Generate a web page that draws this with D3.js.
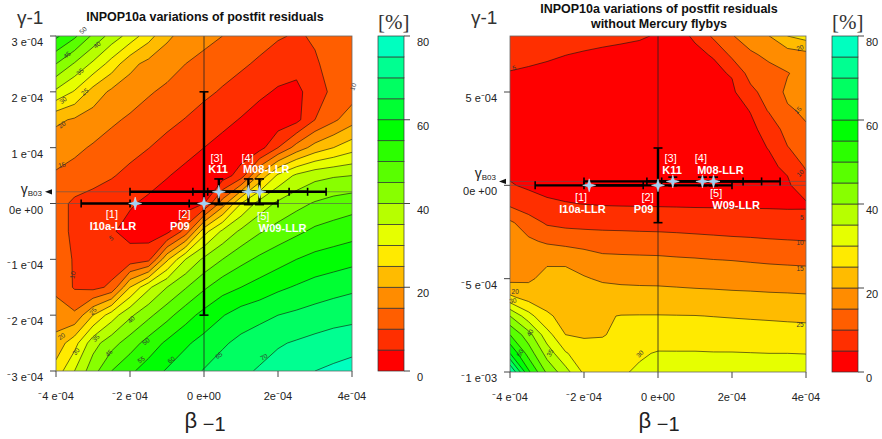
<!DOCTYPE html>
<html>
<head>
<meta charset="utf-8">
<title>INPOP10a variations of postfit residuals</title>
<script src="https://d3js.org/d3.v7.min.js"></script>
<style>
    body { margin: 0; background: #fff; }
    svg text { font-family: "Liberation Sans", Arial, sans-serif; }
    .tick-label { font-size: 11px; fill: #222; }
    .panel-title { font-size: 12.5px; font-weight: bold; fill: #111; text-anchor: middle; }
    .axis-name { font-size: 19px; fill: #333; }
    .unit { font-family: "Liberation Serif", serif; font-size: 21px; fill: #333; }
    .iso-label { font-size: 6.5px; fill: #333; text-anchor: middle; }
    .est-num { font-size: 11px; fill: #fff; text-anchor: middle; }
    .est-name { font-size: 11px; font-weight: bold; fill: #fff; text-anchor: middle; }
</style>
</head>
<body>
<svg id="chart" width="882" height="439"></svg>
<script>
// all beta / gamma values below are in units of 1e-4

// grid nodes of the residual maps
const betaNodes = [-4, -3.5, -3, -2.5, -2, -1.5, -1, -0.5, 0, 0.5, 1, 1.5, 2, 2.5, 3, 3.5, 4];
const gammaNodesAll = [3, 2.5, 2, 1.5, 1, 0.5, 0, -0.5, -1, -1.5, -2, -2.5, -3];
const gammaNodesNoFlyby = [8, 7, 6, 5, 4, 3, 2, 1, 0, -1, -2, -3, -4, -5, -6, -7, -8, -9, -10];

// variation of postfit residuals [%] (rows top to bottom)
const residualsAll = [
    [56, 51, 44, 38, 33, 27, 21, 18, 16.5, 15, 13.5, 12, 10.5, 9.5, 10.5, 11.5, 12],
    [45, 39.5, 34, 28, 21.5, 18.5, 17, 15, 13.5, 12, 10.8, 9.2, 7.5, 7, 9.5, 11.5, 12],
    [34, 29.5, 23, 19, 17.3, 15.5, 14, 12.5, 11, 9.5, 7.8, 6, 4.4, 3.5, 8, 11, 12.5],
    [21, 19.4, 17.6, 15.8, 14.3, 12.8, 11.3, 9.8, 8.1, 6.4, 4.7, 2.8, 1.6, 3.5, 10, 14, 18],
    [17, 16, 14.5, 13, 11.6, 10.1, 8.4, 6.7, 5, 3.3, 1.5, 2.9, 10, 17, 22, 25, 28],
    [14.5, 13.3, 11.8, 10.4, 8.7, 7, 5.3, 3.6, 1.8, 2.3, 7.5, 21, 31, 36, 38.5, 39.5, 40],
    [12, 9, 8, 7, 5.5, 4, 2.5, 2, 5, 17.5, 30, 37, 41, 43.5, 45.5, 47, 48],
    [12, 9, 7.5, 5.5, 3.5, 2.5, 3.5, 12, 28, 36, 41, 44.5, 47, 49, 51, 52, 53],
    [13, 9.5, 8, 7, 7, 8.5, 24, 35, 41, 45, 48.5, 51, 53, 55, 56.5, 57.5, 58.5],
    [14, 9.5, 8.5, 11, 25, 34, 40, 44.6, 49.2, 53, 55, 57, 59, 60.5, 62, 63, 64],
    [17, 16, 25, 32.5, 39, 43.8, 48.3, 52.9, 56.7, 59.7, 62.3, 63.5, 65, 66, 67, 68, 68.5],
    [22, 28, 38, 43, 47.5, 52, 56, 59.2, 61.8, 64.3, 66.3, 68, 69.5, 70.5, 71.5, 72.3, 73],
    [27, 35, 43, 50, 54, 57.5, 60.5, 63, 65.3, 67.3, 69, 70.5, 72, 73.5, 75, 76, 77]
];
const residualsNoFlyby = [
    [7, 6.6, 6.3, 6.0, 5.8, 5.6, 5.45, 5.25, 4.8, 4.3, 5.3, 11, 14.7, 17.3, 19.9, 25, 27],
    [6, 5.7, 5.35, 5.03, 4.8, 4.6, 4.4, 4.2, 4.0, 4.1, 4.5, 5.2, 11.2, 14.3, 16, 17.5, 18.5],
    [4.85, 4.6, 4.4, 4.2, 4.0, 3.8, 3.6, 3.5, 3.4, 3.5, 3.8, 4.3, 5.3, 12, 13.5, 14.8, 16.5],
    [4.5, 4.3, 4.1, 3.9, 3.7, 3.5, 3.3, 3.2, 3.1, 3.2, 3.4, 3.8, 4.2, 8.5, 12.5, 15.8, 16.5],
    [4.3, 4.1, 3.9, 3.7, 3.5, 3.3, 3.1, 3.0, 2.9, 3.0, 3.2, 3.5, 3.9, 5.1, 10.5, 14.5, 15.6],
    [4.2, 4.0, 3.8, 3.6, 3.4, 3.2, 3.0, 2.8, 2.7, 2.8, 3.0, 3.3, 3.7, 4.4, 6, 12.5, 14.6],
    [4.1, 3.9, 3.7, 3.5, 3.3, 3.1, 2.9, 2.7, 2.6, 2.7, 2.9, 3.2, 3.6, 4.2, 5.1, 9.7, 12.8],
    [4.0, 3.8, 3.6, 3.4, 3.2, 3.0, 2.8, 2.6, 2.5, 2.6, 2.8, 3.1, 3.5, 3.9, 4.4, 5.6, 10.6],
    [5.3, 4.4, 3.9, 3.6, 3.3, 3.0, 2.8, 2.6, 2.5, 2.5, 2.6, 2.8, 3.1, 3.4, 3.8, 4.4, 7.5],
    [9, 6.8, 5.6, 5.2, 4.95, 4.7, 4.6, 4.55, 4.5, 4.45, 4.4, 4.4, 4.4, 4.4, 4.4, 4.4, 4.5],
    [15.8, 12.5, 9.3, 8.6, 8.4, 8.3, 8.2, 8.1, 8.0, 7.8, 7.6, 7.4, 7.2, 7.0, 6.8, 6.5, 6.3],
    [16.5, 15.8, 14.3, 13.4, 12.9, 12.5, 12.4, 12.2, 12.1, 11.9, 11.6, 11.3, 11.0, 10.8, 10.5, 10.3, 10.1],
    [17.5, 17.5, 19.2, 19.3, 17.8, 16.3, 16.1, 16.0, 15.9, 15.6, 15.4, 15.1, 14.9, 14.6, 14.3, 14.1, 13.9],
    [18.5, 19.2, 21.5, 21.3, 20.4, 19.4, 19.1, 18.9, 18.8, 18.6, 18.4, 18.2, 18.0, 17.8, 17.6, 17.4, 17.3],
    [26, 23, 23.5, 23.2, 22.8, 22.3, 21.9, 21.9, 21.9, 21.7, 21.5, 21.4, 21.2, 21.1, 20.9, 20.8, 20.6],
    [40, 32, 25.5, 24, 23.5, 24.6, 25.15, 25.2, 25.2, 25.15, 25.1, 24.9, 24.7, 24.5, 24.3, 24.1, 23.9],
    [50, 42, 32, 25, 24.5, 24.6, 26.5, 27.5, 27.8, 27.7, 27.7, 27.5, 27.4, 27.3, 27.2, 27.0, 26.9],
    [60, 48, 38, 30.5, 27, 27.5, 28.5, 29.5, 30.3, 30.3, 30.3, 30.2, 30.2, 30.1, 30.0, 30.0, 29.9],
    [76, 56, 44, 37, 29, 28.8, 29.5, 30.6, 32, 32.2, 32.5, 32.5, 32.5, 32.5, 32.5, 32.5, 32.5]
];

// contour levels and colour-bar ticks [%]
const levels = [0, 5, 10, 15, 20, 25, 30, 35, 40, 45, 50, 55, 60, 65, 70, 75];
const percentTicks = [0, 20, 40, 60, 80];

// axis ticks
const betaTicks = [-4, -2, 0, 2, 4];
const betaTickLabels = ["⁻4 e⁻04", "⁻2 e⁻04", "0 e+00", "2e⁻04", "4e⁻04"];
const gammaTicksAll = [3, 2, 1, 0, -1, -2, -3];
const gammaTickLabelsAll = ["3 e⁻04", "2 e⁻04", "1 e⁻04", "0e +00", "⁻1 e⁻04", "⁻2 e⁻04", "⁻3 e⁻04"];
const gammaTicksNoFlyby = [5, 0, -5, -10];
const gammaTickLabelsNoFlyby = ["5 e⁻04", "0e +00", "⁻5 e⁻04", "⁻1 e⁻03"];

// Cassini value of gamma-1
const gammaB03 = 0.21;

// published estimates of beta-1 / gamma-1
const estNumbers = ["[1]", "[2]", "[3]", "[4]", "[5]"];
const estNames = ["I10a-LLR", "P09", "K11", "M08-LLR", "W09-LLR"];
const estBeta = [-1.86, 0, 0.4, 1.2, 1.5];
const estBetaErr = [1.46, 2.0, 2.4, 1.1, 1.8];
const estGamma = [0, 0, gammaB03, gammaB03, gammaB03];
const estGammaErr = [0, 2.0, 0.23, 0.23, 0.23];

// contour labels: [beta, gamma, text, angle]
const isoLabelsAll = [
    [-3.27, 3.1, "50", -45], [-3.7, 2.66, "45", -40], [-2.89, 2.84, "40", -40],
    [-3.35, 2.36, "35", -40], [-3.22, 2.0, "25", -40], [-3.81, 1.85, "30", -40],
    [-3.84, 1.41, "20", -40], [-3.84, 0.69, "15", -15], [4.03, 2.09, "10", -70],
    [-2.51, -0.62, "5", -30], [-3.55, -1.28, "10", -80], [-3.0, -1.93, "25", -45],
    [-3.85, -2.38, "20", -35], [-1.97, -2.08, "40", -45], [-2.92, -2.41, "35", -45],
    [-3.46, -2.65, "30", -50], [-2.57, -2.68, "45", -45], [-1.57, -2.47, "50", -40],
    [-1.7, -2.8, "55", -35], [-0.89, -2.8, "60", -35], [0.4, -2.72, "65", -35],
    [1.62, -2.75, "70", -30]
];
const isoLabelsNoFlyby = [
    [-3.89, 6.29, "5", -15], [3.84, 7.37, "20", -20], [3.78, 4.03, "15", -45],
    [3.84, 0.65, "10", -45], [3.89, -1.72, "5", 0], [3.84, -3.06, "10", 0],
    [3.84, -4.46, "15", 0], [3.84, -7.47, "25", 0], [-3.86, -5.7, "20", 0],
    [-3.92, -6.18, "30", -10], [-0.49, -9.03, "30", -45], [-2.92, -8.98, "35", -60],
    [-3.46, -7.9, "40", -60], [-3.73, -8.98, "50", -60]
];

// where the estimate labels sit: [beta, gamma, name shift in px]
const labelSpotsAll = [[-2.49, -0.26, 1], [-0.53, -0.26, -4.5], [0.34, 0.744, 1.5], [1.18, 0.744, 18.5], [1.6, -0.296, 19.5]];
const labelSpotsNoFlyby = [[-2.08, -0.86, 1.5], [-0.28, -0.86, -4], [0.34, 1.24, 1.5], [1.16, 1.24, 19.5], [1.57, -0.65, 20]];

const svg = d3.select("#chart");

function bandColor(t) {
    return d3.hsl(levels.indexOf(t) * 11, 1, 0.5).toString();
}

function starPath(r, w) {
    return `M0,${-r}L${w},${-w}L${r},0L${w},${w}L0,${r}L${-w},${w}L${-r},0L${-w},${-w}Z`;
}

function drawPanel(cfg) {
    const x = d3.scaleLinear().domain([-4, 4]).range([cfg.left, cfg.right]);
    const y = d3.scaleLinear().domain(cfg.gammaDomain).range([cfg.bottom, cfg.top]);
    const g = svg.append("g");

    const clipId = "clip-" + cfg.id;
    svg.append("clipPath").attr("id", clipId).append("rect")
        .attr("x", cfg.left).attr("y", cfg.top)
        .attr("width", cfg.right - cfg.left).attr("height", cfg.bottom - cfg.top);

    // filled contours
    const nCols = betaNodes.length, nRows = cfg.gammaNodes.length;
    const du = betaNodes[1] - betaNodes[0];
    const dv = cfg.gammaNodes[0] - cfg.gammaNodes[1];
    const toScreen = d3.geoTransform({
        point: function (px, py) {
            this.stream.point(x(betaNodes[0] + (px - 0.5) * du), y(cfg.gammaNodes[0] - (py - 0.5) * dv));
        }
    });
    const path = d3.geoPath(toScreen);
    const contours = d3.contours().size([nCols, nRows]).thresholds(levels)(cfg.grid.flat());

    const field = g.append("g").attr("clip-path", `url(#${clipId})`);
    field.selectAll("path.band").data(contours).join("path")
        .attr("class", "band")
        .attr("d", path)
        .attr("fill", d => bandColor(d.value));
    field.selectAll("path.iso").data(contours.filter(d => d.value > 0)).join("path")
        .attr("class", "iso")
        .attr("d", path)
        .attr("fill", "none")
        .attr("stroke", "#111")
        .attr("stroke-width", 0.6);

    // contour labels
    g.selectAll("text.iso-label").data(cfg.isoLabels).join("text")
        .attr("class", "iso-label")
        .attr("transform", d => `translate(${x(d[0])},${y(d[1])}) rotate(${d[3]})`)
        .attr("dy", "0.35em")
        .text(d => d[2]);

    // reference lines
    g.append("line").attr("x1", x(0)).attr("x2", x(0)).attr("y1", cfg.top).attr("y2", cfg.bottom)
        .attr("stroke", "#222").attr("stroke-width", 0.8);
    [0, gammaB03].forEach(v => {
        g.append("line").attr("x1", cfg.left).attr("x2", cfg.right).attr("y1", y(v)).attr("y2", y(v))
            .attr("stroke", "#555").attr("stroke-width", 0.6);
    });

    // frame and axes
    g.append("rect").attr("x", cfg.left).attr("y", cfg.top)
        .attr("width", cfg.right - cfg.left).attr("height", cfg.bottom - cfg.top)
        .attr("fill", "none").attr("stroke", "#666").attr("stroke-width", 0.8);

    const yAxis = g.append("g");
    yAxis.selectAll("line").data(cfg.gammaTicks).join("line")
        .attr("x1", cfg.left - 6).attr("x2", cfg.left)
        .attr("y1", d => y(d)).attr("y2", d => y(d))
        .attr("stroke", "#444");
    yAxis.selectAll("text").data(cfg.gammaTicks).join("text")
        .attr("class", "tick-label")
        .attr("text-anchor", "end")
        .attr("x", cfg.left - 13)
        .attr("y", d => y(d) + 10)
        .text((d, i) => cfg.gammaTickLabels[i]);

    const xAxis = g.append("g");
    xAxis.selectAll("line").data(betaTicks).join("line")
        .attr("x1", d => x(d)).attr("x2", d => x(d))
        .attr("y1", cfg.bottom).attr("y2", cfg.bottom + 6)
        .attr("stroke", "#444");
    xAxis.selectAll("text").data(betaTicks).join("text")
        .attr("class", "tick-label")
        .attr("text-anchor", "middle")
        .attr("x", d => x(d))
        .attr("y", cfg.bottom + 29)
        .text((d, i) => betaTickLabels[i]);

    // axis names
    const bx = g.append("text").attr("x", (cfg.left + cfg.right) / 2 + 1).attr("y", 428)
        .attr("text-anchor", "middle").attr("fill", "#222");
    bx.append("tspan").attr("font-size", "22px").text("β");
    bx.append("tspan").attr("font-size", "20px").attr("dy", 3).text(" −1");

    g.append("text").attr("class", "axis-name").attr("x", cfg.left - 39).attr("y", 24).text("γ-1");

    // gamma B03 marker
    const ty = y(gammaB03);
    const gb = g.append("text").attr("text-anchor", "end")
        .attr("x", cfg.left - 14).attr("y", ty + cfg.b03Shift)
        .attr("font-family", "Liberation Serif, serif").attr("fill", "#222");
    gb.append("tspan").attr("font-size", "14px").text("γ");
    gb.append("tspan").attr("font-size", "8px").attr("dy", 2).text("B03");
    g.append("path")
        .attr("d", `M${cfg.left - 11},${ty}L${cfg.left - 4},${ty - 2.6}L${cfg.left - 4},${ty + 2.6}Z`)
        .attr("fill", "#111");

    // titles
    cfg.title.forEach((line, i) => {
        g.append("text").attr("class", "panel-title")
            .attr("x", (cfg.left + cfg.right) / 2 + 1)
            .attr("y", cfg.titleY[i])
            .text(line);
    });

    // error bars
    const bars = g.append("g").attr("stroke", "#000");
    estNames.forEach((name, i) => {
        const cx = x(estBeta[i]), cy = y(estGamma[i]);
        if (estBetaErr[i] > 0) {
            const xa = x(estBeta[i] - estBetaErr[i]), xb = x(estBeta[i] + estBetaErr[i]);
            bars.append("line").attr("x1", xa).attr("x2", xb).attr("y1", cy).attr("y2", cy).attr("stroke-width", 2.4);
            [xa, xb].forEach(e => bars.append("line").attr("x1", e).attr("x2", e)
                .attr("y1", cy - 4).attr("y2", cy + 4).attr("stroke-width", 1.6));
        }
        if (estGammaErr[i] > 0) {
            const ya = y(estGamma[i] - estGammaErr[i]), yb = y(estGamma[i] + estGammaErr[i]);
            bars.append("line").attr("x1", cx).attr("x2", cx).attr("y1", ya).attr("y2", yb).attr("stroke-width", 2.4);
            [ya, yb].forEach(e => bars.append("line").attr("x1", cx - 4.5).attr("x2", cx + 4.5)
                .attr("y1", e).attr("y2", e).attr("stroke-width", 1.6));
        }
    });

    // stars
    g.selectAll("path.star").data(estNames).join("path")
        .attr("class", "star")
        .attr("d", starPath(6.5, 1.4))
        .attr("transform", (d, i) => `translate(${x(estBeta[i])},${y(estGamma[i])})`)
        .attr("fill", "#9fd0f4")
        .attr("stroke", "#e6f3ff")
        .attr("stroke-width", 0.5);

    // estimate labels
    cfg.labelSpots.forEach((s, i) => {
        const lx = x(s[0]), ly = y(s[1]);
        g.append("text").attr("class", "est-num").attr("x", lx).attr("y", ly).text(estNumbers[i]);
        g.append("text").attr("class", "est-name").attr("x", lx + s[2]).attr("y", ly + 11.5).text(estNames[i]);
    });

    // colour bar
    const top = d3.max(percentTicks);
    const pc = d3.scaleLinear().domain([0, top]).range([cfg.bottom, cfg.top]);
    const upper = i => (i < levels.length - 1 ? levels[i + 1] : top);
    const bar = svg.append("g");
    bar.selectAll("rect").data(levels).join("rect")
        .attr("x", cfg.barLeft).attr("width", cfg.barRight - cfg.barLeft)
        .attr("y", (d, i) => pc(upper(i)))
        .attr("height", (d, i) => pc(d) - pc(upper(i)))
        .attr("fill", d => bandColor(d))
        .attr("stroke", "#333").attr("stroke-width", 0.7);
    bar.selectAll("line").data(percentTicks).join("line")
        .attr("x1", cfg.barRight).attr("x2", cfg.barRight + 6)
        .attr("y1", d => pc(d)).attr("y2", d => pc(d))
        .attr("stroke", "#444");
    bar.selectAll("text.tick-label").data(percentTicks).join("text")
        .attr("class", "tick-label")
        .attr("x", cfg.barRight + cfg.barLabelGap)
        .attr("y", d => pc(d) + 10)
        .text(d => d);
    bar.append("text").attr("class", "unit").attr("x", cfg.barLeft).attr("y", 29).text("[%]");
}

drawPanel({
    id: "all", left: 56, right: 352, top: 36, bottom: 371,
    gammaDomain: [-3, 3], gammaNodes: gammaNodesAll, grid: residualsAll,
    gammaTicks: gammaTicksAll, gammaTickLabels: gammaTickLabelsAll,
    isoLabels: isoLabelsAll, labelSpots: labelSpotsAll,
    title: ["INPOP10a variations of postfit residuals"], titleY: [21],
    barLeft: 378, barRight: 404, barLabelGap: 13, b03Shift: 2
});

drawPanel({
    id: "noflyby", left: 510, right: 806, top: 36, bottom: 372,
    gammaDomain: [-10, 8], gammaNodes: gammaNodesNoFlyby, grid: residualsNoFlyby,
    gammaTicks: gammaTicksNoFlyby, gammaTickLabels: gammaTickLabelsNoFlyby,
    isoLabels: isoLabelsNoFlyby, labelSpots: labelSpotsNoFlyby,
    title: ["INPOP10a variations of postfit residuals", "without Mercury flybys"], titleY: [13, 28],
    barLeft: 832, barRight: 858, barLabelGap: 8, b03Shift: -3
});
</script>
</body>
</html>
